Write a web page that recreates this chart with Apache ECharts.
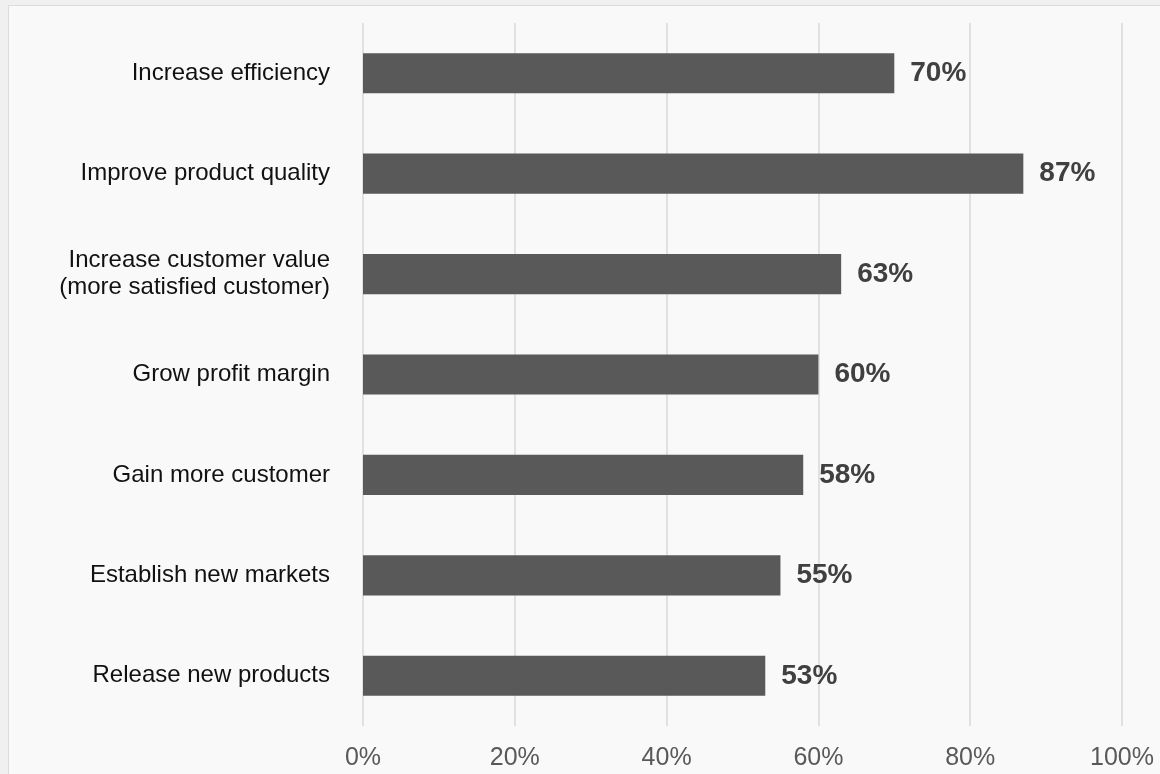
<!DOCTYPE html>
<html><head><meta charset="utf-8">
<script src="https://cdn.jsdelivr.net/npm/echarts@6/dist/echarts.min.js"></script>
<style>
html,body{margin:0;padding:0;background:#f0f0f0;}
#frame{position:absolute;left:8px;top:5px;width:1160px;height:780px;background:#f9f9f9;border:1.5px solid #dcdcdc;box-sizing:border-box;}
#c{position:absolute;left:0;top:0;width:1160px;height:774px;}
</style></head>
<body>
<div id="frame"></div>
<div id="c"></div>
<script>
const categories = ["Increase efficiency","Improve product quality","Increase customer value\n(more satisfied customer)","Grow profit margin","Gain more customer","Establish new markets","Release new products"];
const values = [70,87,63,60,58,55,53];
const tickLabels = ["0%","20%","40%","60%","80%","100%"];

const chart = echarts.init(document.getElementById('c'), null, {renderer:'canvas'});
chart.setOption({
  backgroundColor:'transparent',
  animation:false,
  grid:{left:363,right:38,top:23,bottom:48,containLabel:false},
  xAxis:{type:'value',min:0,max:100,interval:20,
    axisLine:{show:false},axisTick:{show:false},
    splitLine:{show:true,lineStyle:{color:'#d9d9d9',width:1.5}},
    axisLabel:{margin:20,color:'#595959',fontSize:25,fontFamily:'Liberation Sans, Arial, sans-serif',
      formatter:(v)=>tickLabels[Math.round(v/20)]}},
  yAxis:{type:'category',inverse:true,data:categories,
    axisLine:{show:false},axisTick:{show:false},
    axisLabel:{margin:33,color:'#111',fontSize:24,lineHeight:27,align:'right',fontFamily:'Liberation Sans, Arial, sans-serif'}},
  series:[{type:'bar',data:values,barCategoryGap:'60%',
    itemStyle:{color:'#595959'},
    label:{show:true,position:'right',distance:16,formatter:'{c}%',color:'#404040',fontSize:28,fontWeight:'bold',fontFamily:'Liberation Sans, Arial, sans-serif'}}]
});
</script>
</body></html>
